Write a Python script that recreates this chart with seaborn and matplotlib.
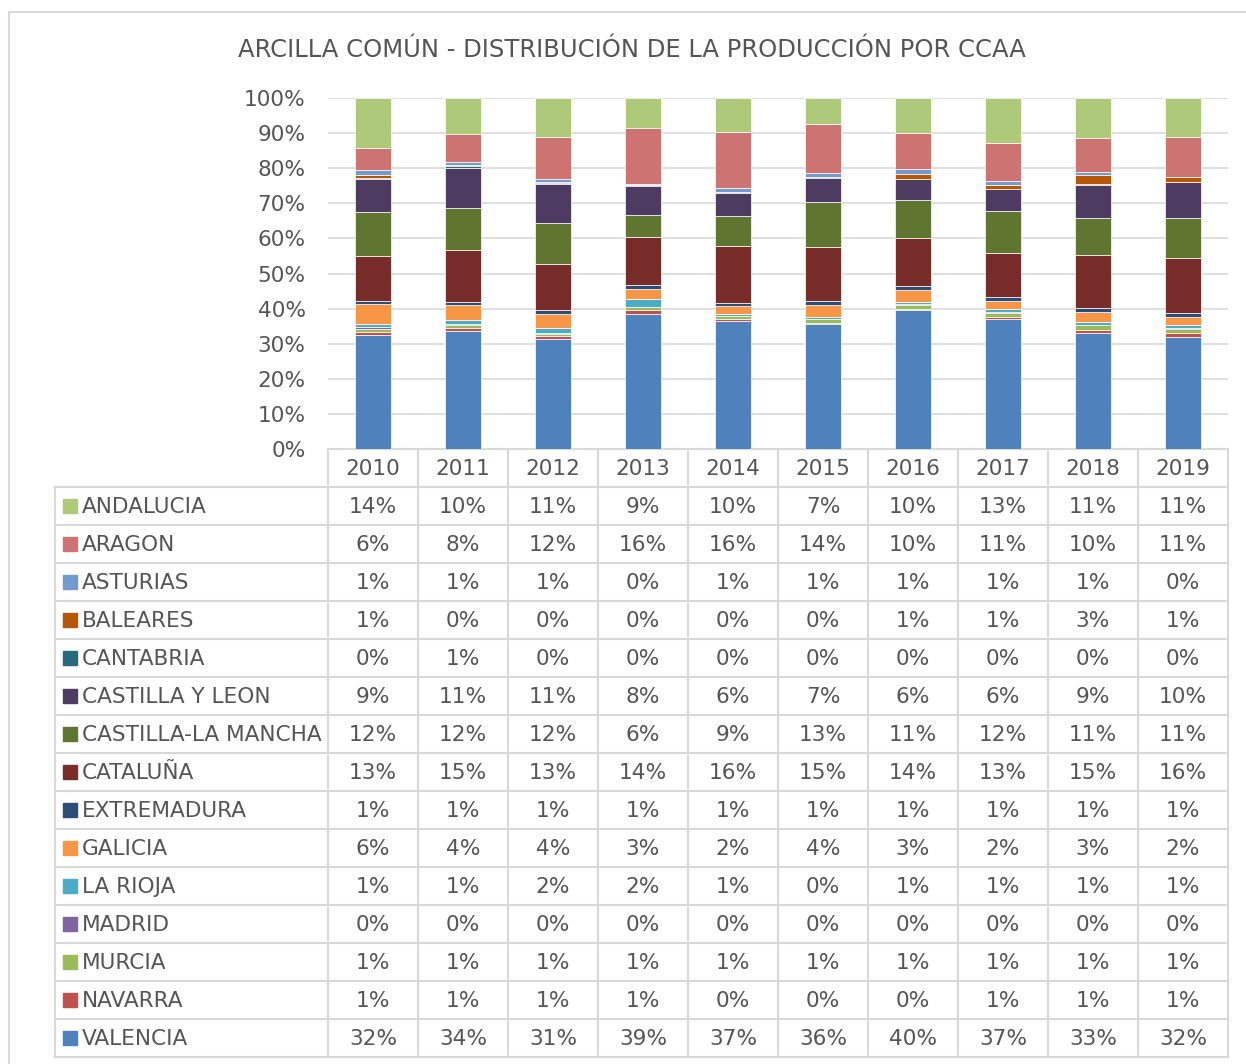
import numpy as np
import pandas as pd
import matplotlib
matplotlib.use('Agg')
import matplotlib.pyplot as plt
import seaborn as sns

# shares per region (%), years 2010..2019
years = [2010, 2011, 2012, 2013, 2014, 2015, 2016, 2017, 2018, 2019]
regions = ['ANDALUCIA', 'ARAGON', 'ASTURIAS', 'BALEARES', 'CANTABRIA', 'CASTILLA Y LEON',
           'CASTILLA-LA MANCHA', 'CATALUÑA', 'EXTREMADURA', 'GALICIA', 'LA RIOJA',
           'MADRID', 'MURCIA', 'NAVARRA', 'VALENCIA']

andalucia = [14.2, 10.3, 11.1, 8.6, 9.6, 7.4, 10.0, 12.7, 11.4, 11.2]
aragon = [6.4, 7.9, 12.0, 15.8, 15.9, 14.0, 10.3, 11.0, 9.6, 11.2]
asturias = [1.4, 1.0, 0.8, 0.4, 1.3, 1.0, 1.4, 1.1, 1.0, 0.2]
baleares = [0.8, 0.2, 0.2, 0.1, 0.2, 0.1, 1.3, 1.0, 2.6, 1.2]
cantabria = [0.4, 0.6, 0.4, 0.2, 0.1, 0.4, 0.2, 0.2, 0.2, 0.1]
castilla_leon = [9.3, 11.2, 11.1, 8.2, 6.4, 6.8, 6.0, 6.3, 9.4, 10.2]
castilla_mancha = [12.4, 12.1, 11.7, 6.4, 8.8, 12.8, 10.7, 11.8, 10.6, 11.4]
cataluna = [12.8, 14.8, 13.2, 13.7, 16.2, 15.3, 13.6, 12.7, 15.1, 15.8]
extremadura = [1.0, 0.9, 1.1, 1.1, 0.7, 1.1, 1.2, 1.0, 1.2, 1.0]
galicia = [5.6, 4.2, 3.8, 2.8, 2.2, 3.6, 3.4, 2.4, 2.6, 2.4]
la_rioja = [1.0, 1.2, 1.6, 2.2, 0.6, 0.4, 0.7, 0.9, 0.9, 0.9]
madrid = [0.4, 0.2, 0.1, 0.1, 0.1, 0.1, 0.1, 0.1, 0.1, 0.1]
murcia = [1.1, 0.9, 0.8, 0.8, 1.0, 1.1, 1.3, 1.1, 1.3, 1.3]
navarra = [0.8, 0.9, 0.9, 1.0, 0.3, 0.2, 0.2, 0.7, 0.9, 1.1]
valencia = [32.4, 33.6, 31.2, 38.6, 36.6, 35.7, 39.6, 37.0, 33.1, 31.9]

series = [andalucia, aragon, asturias, baleares, cantabria, castilla_leon, castilla_mancha,
          cataluna, extremadura, galicia, la_rioja, madrid, murcia, navarra, valencia]

colors = ['#AFC97A', '#CD7371', '#729ACA', '#B65708', '#276A7C', '#4D3B62', '#5F7530',
          '#772C2A', '#2C4D75', '#F79646', '#4BACC6', '#8064A2', '#9BBB59', '#C0504D', '#4F81BD']

rows = []
for reg, vals in zip(regions, series):
    for y, v in zip(years, vals):
        rows.append({'year': y, 'region': reg, 'value': v})
df = pd.DataFrame(rows)

W, H = 1246, 1064
fig = plt.figure(figsize=(W / 100, H / 100), dpi=100)
fig.patch.set_facecolor('white')

txt = '#555555'
grid = '#D9D9D9'
fs = 15.6

# overlay in pixel coords for table / frame
ov = fig.add_axes([0, 0, 1, 1])
ov.set_xlim(0, W)
ov.set_ylim(H, 0)
ov.axis('off')

# plot area
left, right, top, base = 328, 1228, 98, 449
ax = fig.add_axes([left / W, 1 - base / H, (right - left) / W, (base - top) / H])
sns.histplot(data=df, x='year', weights='value', hue='region', hue_order=regions,
             multiple='stack', discrete=True, shrink=0.4, palette=colors, alpha=1,
             edgecolor='white', linewidth=0.5, legend=False, ax=ax)
ax.set_xlim(years[0] - 0.5, years[-1] + 0.5)
ax.set_ylim(0, 100)
ax.set_yticks(np.arange(0, 101, 10))
ax.set_yticklabels([f'{t}%' for t in range(0, 101, 10)], color=txt, fontsize=fs)
ax.tick_params(axis='y', length=0, pad=16)
ax.set_xticks([])
ax.set_xlabel('')
ax.set_ylabel('')
ax.yaxis.grid(True, color=grid, linewidth=1.2)
ax.set_axisbelow(True)
for s in ax.spines.values():
    s.set_visible(False)
ax.patch.set_alpha(0)

# outer frame
ov.plot([9, 9, W + 5], [H + 5, 12, 12], color=grid, lw=1.5)

# title
ov.text(632, 50, 'ARCILLA COMÚN - DISTRIBUCIÓN DE LA PRODUCCIÓN POR CCAA',
        ha='center', va='center', color=txt, fontsize=17.5)

# data table
col_w = (right - left) / len(years)
row_h = 38
t_top = 487
t_bot = t_top + row_h * len(regions)
tl = 55
ov.plot([left, right], [base, base], color=grid, lw=1.5)
for k in range(len(years) + 1):
    x = left + k * col_w
    ov.plot([x, x], [base, t_bot], color=grid, lw=1.5)
ov.plot([tl, tl], [t_top, t_bot], color=grid, lw=1.5)
for i in range(len(regions) + 1):
    y = t_top + i * row_h
    ov.plot([tl, right], [y, y], color=grid, lw=1.5)

for k, yr in enumerate(years):
    ov.text(left + (k + 0.5) * col_w, (base + t_top) / 2 + 1, str(yr),
            ha='center', va='center', color=txt, fontsize=fs)

for i, (reg, vals, c) in enumerate(zip(regions, series, colors)):
    yc = t_top + (i + 0.5) * row_h
    ov.add_patch(plt.Rectangle((63, yc - 7), 14, 14, color=c))
    ov.text(82, yc + 1, reg, ha='left', va='center', color=txt, fontsize=fs)
    for k, v in enumerate(vals):
        ov.text(left + (k + 0.5) * col_w, yc + 1, f'{int(round(v))}%',
                ha='center', va='center', color=txt, fontsize=fs)

fig.savefig('out.png', dpi=100)
